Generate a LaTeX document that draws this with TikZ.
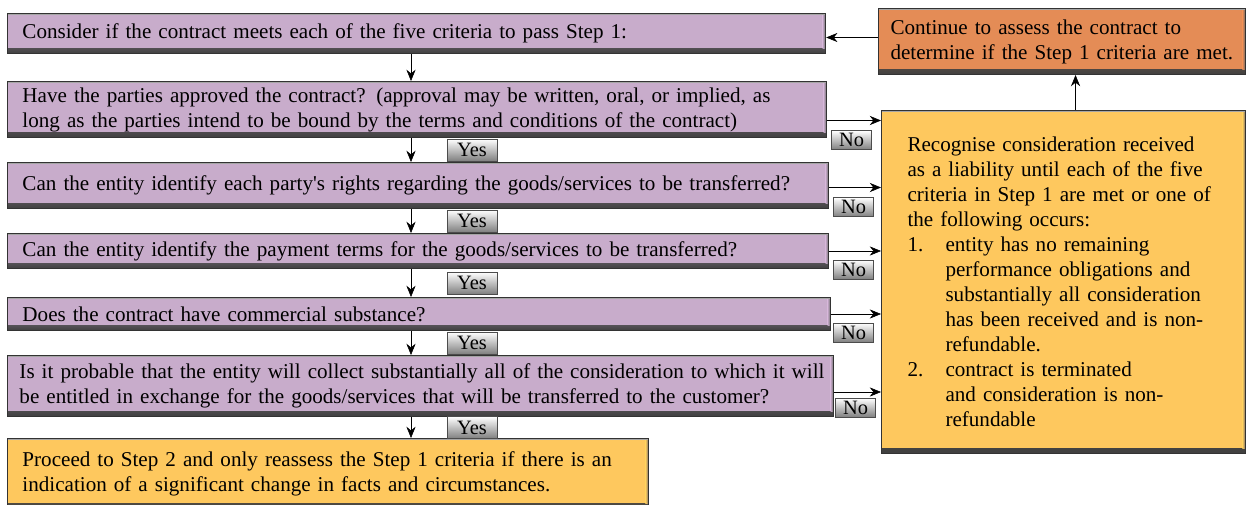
\documentclass[tikz,border=0pt]{standalone}
\usepackage{fontspec}
\setmainfont{Liberation Serif}
\usetikzlibrary{arrows.meta,positioning}

\definecolor{qfill}{RGB}{200,172,203}
\definecolor{contfill}{RGB}{228,140,86}
\definecolor{recfill}{RGB}{254,200,94}

\begin{document}
\begin{tikzpicture}[x=0.025cm, y=-0.025cm, >={Stealth[length=8pt,width=6.5pt]},
  every node/.style={font=\fontsize{15}{17.8}\selectfont},
  bevel/.style={path picture={
    \shade[top color=#1, bottom color=black!75]
      ([yshift=0.12cm]path picture bounding box.south west) rectangle (path picture bounding box.south east);
    \shade[left color=#1, right color=black!60]
      ([xshift=-0.08cm]path picture bounding box.north east) rectangle ([yshift=0.12cm]path picture bounding box.south east);
    \draw[black!35, line width=1.6pt]
      (path picture bounding box.north west) -- (path picture bounding box.north east);}},
  box/.style={draw=black!80, line width=0.7pt, anchor=north west, inner xsep=0.375cm,
              inner ysep=0pt, align=left},
  qbox/.style={box, fill=qfill, bevel=qfill},
  tag/.style={draw=black!70, top color=white, bottom color=black!50, inner sep=0pt,
              font=\fontsize{14.5}{15}\selectfont},
  yes/.style={tag, minimum width=1.25cm, minimum height=0.55cm, midway, xshift=1.525cm},
  no/.style={tag, minimum width=1.0cm, minimum height=0.47cm, anchor=north west}]

  \useasboundingbox (0,0) rectangle (1247,505);

  % ---- Step 1 questions (left column) ----
  \node[qbox, minimum height=1.0cm, text width=19.7cm] (b1) at (7,13)
    {Consider if the contract meets each of the five criteria to pass Step 1:};
  \node[qbox, minimum height=1.4cm, text width=19.725cm] (b2) at (7,81)
    {Have the parties approved the contract? (approval may be written, oral, or implied, as\\
     long as the parties intend to be bound by the terms and conditions of the contract)};
  \node[qbox, minimum height=1.15cm, text width=19.775cm] (b3) at (7,162)
    {Can the entity identify each party\textquotesingle s rights regarding the goods/services to be transferred?};
  \node[qbox, minimum height=0.875cm, text width=19.775cm] (b4) at (7,233)
    {Can the entity identify the payment terms for the goods/services to be transferred?};
  \node[qbox, minimum height=0.825cm, text width=19.825cm] (b5) at (7,297)
    {Does the contract have commercial substance?};
  \node[qbox, inner xsep=0.3cm, minimum height=1.525cm, text width=20.05cm] (b6) at (7,355)
    {\mbox{Is it probable that the entity will collect substantially all of the consideration to which it will}\\
     be entitled in exchange for the goods/services that will be transferred to the customer?};

  % ---- Outcome boxes ----
  \node[box, fill=recfill, bevel=recfill, minimum height=1.75cm, text width=15.275cm] (b7) at (7,438)
    {Proceed to Step 2 and only reassess the Step 1 criteria if there is an\\
     indication of a significant change in facts and circumstances.};
  \node[box, fill=contfill, bevel=contfill, inner xsep=0.3cm, minimum height=1.65cm,
        text width=8.575cm] (cont) at (878,8)
    {Continue to assess the contract to\\ determine if the Step 1 criteria are met.};
  \node[box, fill=recfill, bevel=recfill, inner xsep=0.65cm, minimum height=8.575cm,
        text width=7.8cm] (recog) at (881,110)
    {Recognise consideration received\\
     as a liability until each of the five\\
     criteria in Step 1 are met or one of\\
     the following occurs:\\
     \makebox[0.95cm][l]{1.}entity has no remaining\\
     \hspace*{0.95cm}performance obligations and\\
     \hspace*{0.95cm}substantially all consideration\\
     \hspace*{0.95cm}has been received and is non-\\
     \hspace*{0.95cm}refundable.\\
     \makebox[0.95cm][l]{2.}contract is terminated\\
     \hspace*{0.95cm}and consideration is non-\\
     \hspace*{0.95cm}refundable};

  % ---- Yes flow down the left ----
  \coordinate (spine) at (411,0);
  \draw[->] (b1.south -| spine) -- (b2.north -| spine);
  \draw[->] (b2.south -| spine) -- node[yes] (y2) {Yes} (b3.north -| spine);
  \draw[->] (b3.south -| spine) -- node[yes] (y3) {Yes} (b4.north -| spine);
  \draw[->] (b4.south -| spine) -- node[yes] (y4) {Yes} (b5.north -| spine);
  \draw[->] (b5.south -| spine) -- node[yes] (y5) {Yes} (b6.north -| spine);
  \draw[->] (b6.south -| spine) -- node[yes] (y6) {Yes} (b7.north -| spine);

  % ---- No branches to the right ----
  \draw[->] (b2.east) ++(0,11) coordinate (n2) -- (n2 -| recog.west);
  \draw[->] (b3.east) ++(0,2) coordinate (n3) -- (n3 -| recog.west);
  \draw[->] (b4.east) coordinate (n4) -- (n4 -| recog.west);
  \draw[->] (b5.east) coordinate (n5) -- (n5 -| recog.west);
  \draw[->] (b6.east) ++(0,6) coordinate (n6) -- (n6 -| recog.west);
  \path (n2) ++(4,10) node[no] (no2) {No};
  \path (n3) ++(4,10) node[no] (no3) {No};
  \path (n4) ++(4,9) node[no] (no4) {No};
  \path (n5) ++(2,9) node[no] (no5) {No};
  \path (n6) ++(1,6) node[no] (no6) {No};

  % ---- Back to the start ----
  \draw[->] (recog.north) ++(12,0) coordinate (r1) -- (r1 |- cont.south);
  \draw[->] (cont.west) ++(0,-4) coordinate (c1) -- (c1 -| b1.east);
\end{tikzpicture}
\end{document}
